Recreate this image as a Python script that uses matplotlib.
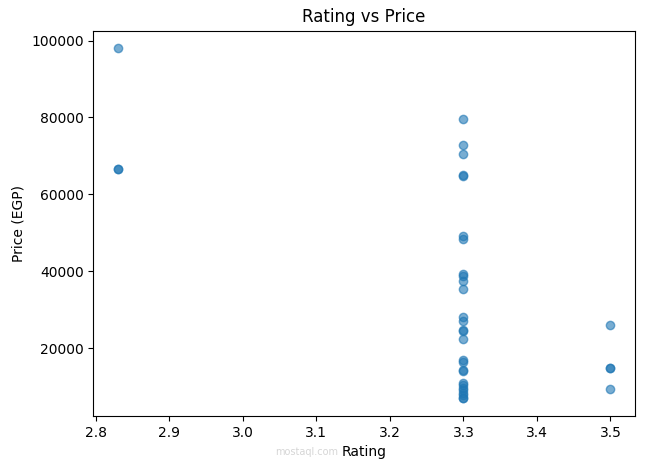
import matplotlib
matplotlib.use("Agg")
import matplotlib.pyplot as plt

ratings_283 = [2.83] * 3
prices_283 = [98000, 66500, 66700]

ratings_33 = [3.3] * 28
prices_33 = [79500, 72700, 70500, 65000, 64800, 49200, 48400,
             39400, 38800, 37500, 35300, 28000, 27000, 24800,
             24400, 22300, 17000, 16500, 14200, 14000, 11000,
             10300, 9700, 9000, 8300, 7700, 7100, 6900]

ratings_35 = [3.5] * 4
prices_35 = [26000, 14800, 14700, 9400]

rating = ratings_283 + ratings_33 + ratings_35
price = prices_283 + prices_33 + prices_35

fig = plt.figure(figsize=(6.45, 4.68), dpi=100)
ax = fig.add_axes([93.3 / 645, 52 / 468, (635 - 93.3) / 645, (416 - 30.7) / 468])
ax.scatter(rating, price, alpha=0.6)
ax.set_title("Rating vs Price")
ax.set_xlabel("Rating", zorder=5)
ax.set_ylabel("Price (EGP)")

fig.text(338 / 645, 16 / 468, "mostaql.com", color="#d6d6d6", fontsize=7,
         ha="right", va="center", zorder=0)

fig.savefig("out.png", dpi=100)
